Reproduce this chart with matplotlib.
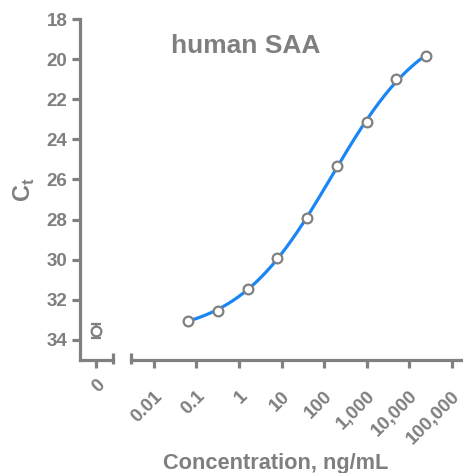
import numpy as np
import matplotlib
matplotlib.use('Agg')
import matplotlib.pyplot as plt

# data
conc = [0.064, 0.32, 1.6, 8, 40, 200, 1000, 5000, 25000]   # ng/mL
ct = [33.05, 32.55, 31.45, 29.9, 27.9, 25.35, 23.15, 21.0, 19.85]
zero_ct = 33.55
zero_err = 0.33

xticks = [0.01, 0.1, 1, 10, 100, 1000, 10000, 100000]
xticklabels = ['0.01', '0.1', '1', '10', '100', '1,000', '10,000', '100,000']
yticks = [18, 20, 22, 24, 26, 28, 30, 32, 34]

GRAY = '#808080'
TXT = '#7f7f7f'
BLUE = '#1a86f5'

plt.rcParams['font.family'] = ['Liberation Sans', 'DejaVu Sans']
plt.rcParams['font.weight'] = 'bold'
plt.rcParams['mathtext.fontset'] = 'custom'
plt.rcParams['mathtext.rm'] = 'Liberation Sans'


def fit_4pl(x, y):
    """Four-parameter logistic fit in log10 space (grid over slope/midpoint)."""
    lx = np.log10(x)
    y = np.asarray(y, float)
    best = None
    for b in np.linspace(0.2, 2.0, 181):
        for c in np.linspace(-1, 5, 301):
            f = 1.0 / (1.0 + 10 ** ((lx - c) * b))
            M = np.column_stack([f, 1 - f])
            coef, res, _, _ = np.linalg.lstsq(M, y, rcond=None)
            err = np.sum((M @ coef - y) ** 2)
            if best is None or err < best[0]:
                best = (err, coef[0], coef[1], b, c)
    _, A, D, b, c = best

    def model(xx):
        f = 1.0 / (1.0 + 10 ** ((np.log10(xx) - c) * b))
        return A * f + D * (1 - f)
    return model


W, H = 464, 473
fig = plt.figure(figsize=(W / 100, H / 100), dpi=100)

bottom = (H - 360) / H
height = 341 / H
ax0 = fig.add_axes([80 / W, bottom, 33 / W, height])
ax1 = fig.add_axes([131 / W, bottom, (W - 131) / W, height])

for ax in (ax0, ax1):
    ax.set_ylim(35, 18)
    for s in ('top', 'right'):
        ax.spines[s].set_visible(False)
    for s in ('left', 'bottom'):
        ax.spines[s].set_linewidth(2.3)
        ax.spines[s].set_color(GRAY)
    ax.tick_params(colors=GRAY, width=2.3, length=6, labelcolor=TXT, labelsize=13.5)
    ax.set_facecolor('none')

# left panel: zero concentration
ax0.set_xlim(-1, 1.0625)
ax0.set_yticks(yticks)
ax0.set_xticks([0])
ax0.set_xticklabels(['0'])
ax0.tick_params(axis='x', pad=6)
ax0.tick_params(axis='y', pad=3)
ax0.errorbar([0], [zero_ct], yerr=[zero_err], fmt='o', ms=7, mfc='white',
             mec=GRAY, mew=1.6, ecolor=GRAY, elinewidth=1.6, capsize=3.5,
             capthick=1.6, zorder=3)

# right panel: dilution series
ax1.set_xscale('log')
ax1.set_xlim(10 ** -2.54, 10 ** 5.29)
ax1.set_xticks(xticks)
ax1.set_xticklabels(xticklabels)
ax1.xaxis.set_minor_locator(matplotlib.ticker.NullLocator())
ax1.spines['left'].set_visible(False)
ax1.tick_params(axis='y', left=False, labelleft=False)
ax1.tick_params(axis='x', pad=14)

model = fit_4pl(conc, ct)
xs = np.logspace(np.log10(conc[0]), np.log10(conc[-1]), 300)
ax1.plot(xs, model(xs), color=BLUE, lw=2.3, zorder=2, clip_on=False)
ax1.plot(conc, ct, 'o', ms=7, mfc='white', mec=GRAY, mew=1.6, zorder=3, clip_on=False)

for ax in (ax0, ax1):
    plt.setp(ax.get_xticklabels(), rotation=45, ha='right', va='top',
             rotation_mode='anchor')

# break marks at the axis gap
ax0.plot([1.0625, 1.0625], [-0.012, 0.02], color=GRAY, lw=2.3,
         transform=ax0.get_xaxis_transform(), clip_on=False, solid_capstyle='butt')
ax1.plot([10 ** -2.54, 10 ** -2.54], [-0.012, 0.02], color=GRAY, lw=2.3,
         transform=ax1.get_xaxis_transform(), clip_on=False, solid_capstyle='butt')

fig.text(246 / W, 1 - 53 / H, 'human SAA', ha='center', va='baseline',
         fontsize=19, color=TXT, fontweight='bold')
fig.text(276 / W, 1 - 469 / H, 'Concentration, ng/mL', ha='center', va='baseline',
         fontsize=15.7, color=TXT, fontweight='bold')
fig.text(24 / W, 1 - 190 / H, r'C$_{\mathrm{t}}$', ha='center', va='center',
         rotation=90, fontsize=17, color=TXT, fontweight='bold')

fig.savefig('out.png', dpi=100)
